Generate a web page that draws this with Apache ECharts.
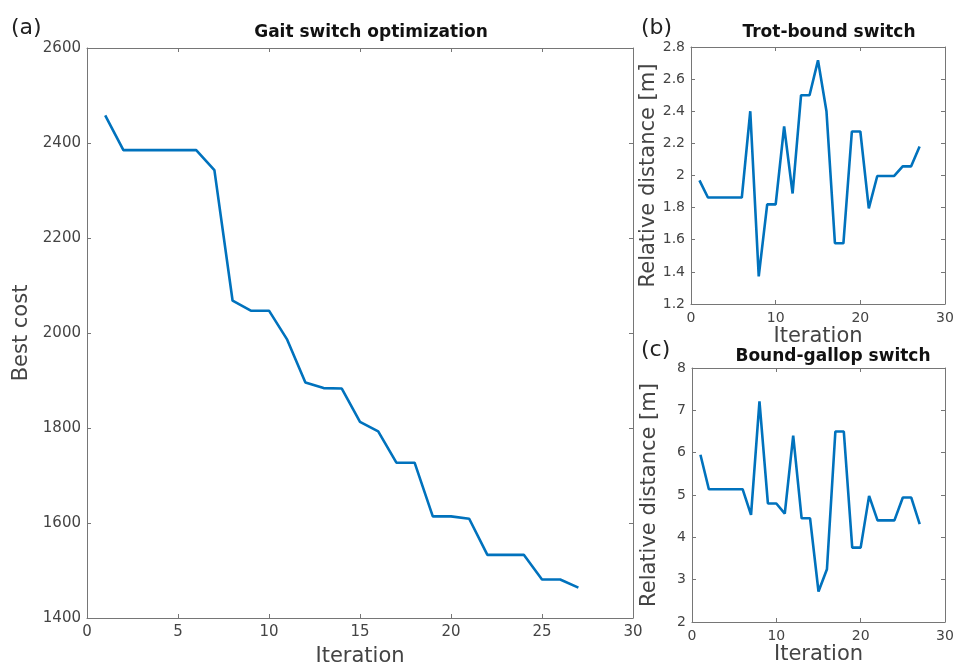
<!DOCTYPE html>
<html>
<head>
<meta charset="utf-8">
<script src="https://cdn.jsdelivr.net/npm/echarts@6/dist/echarts.min.js"></script>
<style>
  html, body { margin: 0; padding: 0; background: #fff; }
  #main { width: 954px; height: 663px; }
</style>
</head>
<body>
<div id="main"></div>
<script>
// iterations shared by all three panels
var iterations = [1, 2, 3, 4, 5, 6, 7, 8, 9, 10, 11, 12, 13, 14, 15, 16, 17, 18, 19, 20, 21, 22, 23, 24, 25, 26, 27];

// (a) best cost
var bestCost = [2458, 2385, 2385, 2385, 2385, 2385, 2343, 2068, 2047, 2047, 1986, 1896, 1884, 1883,
  1813, 1793, 1727, 1727, 1614, 1614, 1609, 1533, 1533, 1533, 1481, 1481, 1464];

// (b) trot-bound relative distance
var trotBound = [1.97, 1.863, 1.863, 1.863, 1.863, 1.863, 2.40, 1.372, 1.82, 1.82, 2.305, 1.888, 2.50, 2.50,
  2.717, 2.40, 1.578, 1.578, 2.274, 2.274, 1.795, 1.997, 1.997, 1.997, 2.057, 2.057, 2.181];

// (c) bound-gallop relative distance
var boundGallop = [5.95, 5.137, 5.137, 5.137, 5.137, 5.137, 4.53, 7.21, 4.80, 4.80, 4.56, 6.40, 4.45, 4.45,
  2.72, 3.245, 6.50, 6.50, 3.757, 3.757, 4.98, 4.40, 4.40, 4.40, 4.94, 4.94, 4.31];

var font = 'DejaVu Sans';
var axisCol = '#767676';
var labelCol = '#444';
var lineCol = '#0072BD';

function pairs(ys) {
  return iterations.map(function(x, i) { return [x, ys[i]]; });
}

// plain numbers, no thousands separator
function plain(v) {
  return String(Math.round(v * 100) / 100);
}

// main axis (with labels) plus a mirrored one (ticks only), matlab style box
function xAxes(grid, interval, labelSize, nameGap) {
  return [{
    type: 'value', gridIndex: grid, min: 0, max: 30, interval: interval, position: 'bottom',
    name: 'Iteration', nameLocation: 'middle', nameGap: nameGap,
    nameTextStyle: { fontFamily: font, fontSize: 21, color: labelCol },
    axisLine: { show: true, onZero: false, lineStyle: { color: axisCol, width: 1 } },
    axisTick: { show: true, inside: true, length: 4, lineStyle: { color: axisCol } },
    axisLabel: { fontFamily: font, fontSize: labelSize, color: labelCol, margin: 7, formatter: plain },
    splitLine: { show: false }
  }, {
    type: 'value', gridIndex: grid, min: 0, max: 30, interval: interval, position: 'top',
    axisLine: { show: true, onZero: false, lineStyle: { color: axisCol, width: 1 } },
    axisTick: { show: true, inside: true, length: 4, lineStyle: { color: axisCol } },
    axisLabel: { show: false },
    splitLine: { show: false }
  }];
}

function yAxes(grid, min, max, interval, name, labelSize, nameGap) {
  return [{
    type: 'value', gridIndex: grid, min: min, max: max, interval: interval, position: 'left',
    name: name, nameLocation: 'middle', nameGap: nameGap,
    nameTextStyle: { fontFamily: font, fontSize: 21, color: labelCol },
    axisLine: { show: true, onZero: false, lineStyle: { color: axisCol, width: 1 } },
    axisTick: { show: true, inside: true, length: 4, lineStyle: { color: axisCol } },
    axisLabel: { fontFamily: font, fontSize: labelSize, color: labelCol, margin: 6, formatter: plain },
    splitLine: { show: false }
  }, {
    type: 'value', gridIndex: grid, min: min, max: max, interval: interval, position: 'right',
    axisLine: { show: true, onZero: false, lineStyle: { color: axisCol, width: 1 } },
    axisTick: { show: true, inside: true, length: 4, lineStyle: { color: axisCol } },
    axisLabel: { show: false },
    splitLine: { show: false }
  }];
}

var chart = echarts.init(document.getElementById('main'), null, { renderer: 'canvas' });

var boldTitle = { fontFamily: font, fontSize: 17, fontWeight: 'bold', color: '#111' };
var panelTag = { fontFamily: font, fontSize: 22, fontWeight: 'normal', color: '#222' };

var option = {
  backgroundColor: '#fff',
  animation: false,
  title: [
    { text: 'Gait switch optimization', left: 366, top: 19, textAlign: 'center', textStyle: boldTitle },
    { text: 'Trot-bound switch', left: 824, top: 19, textAlign: 'center', textStyle: boldTitle },
    { text: 'Bound-gallop switch', left: 828, top: 343, textAlign: 'center', textStyle: boldTitle },
    { text: '(a)', left: 6, top: 12, textStyle: panelTag },
    { text: '(b)', left: 636, top: 12, textStyle: panelTag },
    { text: '(c)', left: 636, top: 334, textStyle: panelTag }
  ],
  grid: [
    { left: 87, top: 48, width: 546, height: 570, outerBoundsMode: 'none' },
    { left: 691, top: 47, width: 254, height: 257, outerBoundsMode: 'none' },
    { left: 692, top: 368, width: 253, height: 254, outerBoundsMode: 'none' }
  ],
  xAxis: [].concat(
    xAxes(0, 5, 15, 28),
    xAxes(1, 10, 14, 17),
    xAxes(2, 10, 14, 14)
  ),
  yAxis: [].concat(
    yAxes(0, 1400, 2600, 200, 'Best cost', 15, 45),
    yAxes(1, 1.2, 2.8, 0.2, 'Relative distance [m]', 14, 32),
    yAxes(2, 2, 8, 1, 'Relative distance [m]', 14, 32)
  ),
  series: [{
    type: 'line', xAxisIndex: 0, yAxisIndex: 0, data: pairs(bestCost),
    showSymbol: false, lineStyle: { color: lineCol, width: 2.6 }
  }, {
    type: 'line', xAxisIndex: 2, yAxisIndex: 2, data: pairs(trotBound),
    showSymbol: false, lineStyle: { color: lineCol, width: 2.6 }
  }, {
    type: 'line', xAxisIndex: 4, yAxisIndex: 4, data: pairs(boundGallop),
    showSymbol: false, lineStyle: { color: lineCol, width: 2.6 }
  }]
};

chart.setOption(option);
</script>
</body>
</html>
